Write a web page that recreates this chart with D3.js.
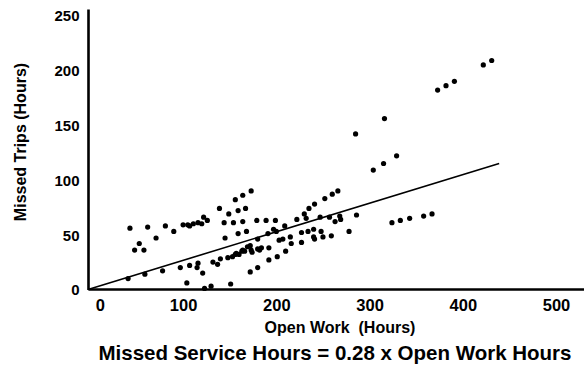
<!DOCTYPE html>
<html>
<head>
<meta charset="utf-8">
<script src="https://cdn.jsdelivr.net/npm/d3@7"></script>
<style>
  html, body { margin: 0; padding: 0; background: #fff; }
  #chart { width: 584px; height: 375px; }
  text { font-family: "Liberation Sans", Arial, sans-serif; font-weight: bold; fill: #000; }
</style>
</head>
<body>
<div id="chart"></div>
<script>
// open work hours (x) and missed trip hours (y)
const openWork = [
  43, 48, 53, 58, 62, 71, 81, 90, 100, 105, 107, 111, 116, 120, 122, 126,
  41, 59, 78, 97, 107, 116, 115, 121, 104, 123, 130, 151,
  139, 144, 149, 154, 156, 159, 164, 164, 167, 173, 179, 189, 199, 145, 159, 168,
  132, 137, 140, 148, 153, 156, 157, 160, 163, 164, 166, 169, 172, 173, 174, 180, 182, 184,
  180, 172, 192, 201, 210, 192,
  180, 191, 197, 200, 203, 207, 215, 216, 227, 227, 234, 240, 241, 240, 248, 250, 259,
  209, 222, 230, 232, 235, 241, 247, 252, 257, 260, 263, 268, 269, 266, 278,
  422, 431, 373, 382, 391, 316, 285, 304, 315, 329, 286, 324, 333, 343, 358, 367
];
const missedTrips = [
  56, 36, 42, 36, 57, 47, 58, 53, 59, 59, 58, 60, 61, 60, 66, 63,
  10, 14, 17, 20, 22, 24, 20, 15, 6, 1, 3, 5,
  74, 61, 69, 61, 82, 72, 86, 62, 74, 90, 63, 63, 63, 47, 51, 53,
  25, 23, 28, 29, 30, 32, 33, 32, 35, 36, 35, 39, 40, 36, 34, 37, 36, 38,
  20, 16, 27, 30, 35, 38,
  46, 51, 55, 53, 45, 46, 48, 42, 52, 43, 53, 48, 46, 55, 53, 48, 49,
  58, 64, 69, 65, 74, 78, 66, 83, 66, 87, 62, 67, 64, 90, 53,
  205, 209, 182, 186, 190, 156, 142, 109, 115, 122, 68, 61, 63, 65, 67, 69
];

// fitted line end points
const trendX = [-2, 439];
const trendY = [0, 115];

const xTicks = [0, 100, 200, 300, 400, 500];
const yTicks = [0, 50, 100, 150, 200, 250];

const xTitle = "Open Work  (Hours)";
const yTitle = "Missed Trips (Hours)";
const chartTitle = "Missed Service Hours = 0.28 x Open Work Hours";

const width = 584, height = 375;

const svg = d3.select("#chart")
  .append("svg")
  .attr("width", width)
  .attr("height", height);

const x = d3.scaleLinear().domain([-2, 530]).range([88, 584]);
const y = d3.scaleLinear().domain([0, 256]).range([289.5, 9]);

// points
svg.append("g")
  .selectAll("circle")
  .data(openWork.map((d, i) => ({ x: d, y: missedTrips[i] })))
  .enter()
  .append("circle")
  .attr("cx", d => x(d.x))
  .attr("cy", d => y(d.y))
  .attr("r", 2.6)
  .style("fill", "#000");

// trend line
svg.append("line")
  .attr("x1", x(trendX[0]))
  .attr("y1", y(trendY[0]))
  .attr("x2", x(trendX[1]))
  .attr("y2", y(trendY[1]))
  .style("stroke", "#000")
  .style("stroke-width", 1.6);

// y axis
const yAxis = svg.append("g")
  .attr("transform", "translate(88,0)")
  .call(d3.axisLeft(y).tickValues(yTicks).tickSize(0).tickSizeOuter(0).tickPadding(8.5));
yAxis.select(".domain").style("stroke", "#000").style("stroke-width", 2.6);
yAxis.selectAll("text")
  .style("font-family", "'Liberation Sans', Arial, sans-serif")
  .style("font-weight", "bold")
  .style("font-size", "15px")
  .attr("dy", "0.36em");

// x axis
const xAxis = svg.append("g")
  .attr("transform", "translate(0,289)")
  .call(d3.axisBottom(x).tickValues(xTicks).tickSize(0).tickSizeOuter(0).tickPadding(10));
xAxis.select(".domain").style("stroke", "#000").style("stroke-width", 2.6);
xAxis.selectAll("text")
  .style("font-family", "'Liberation Sans', Arial, sans-serif")
  .style("font-weight", "bold")
  .style("font-size", "16.5px")
  .attr("dy", "0.71em");
// the zero label sits a little right of the corner
xAxis.selectAll(".tick").filter(d => d === 0).select("text").attr("dx", 10);

// titles
svg.append("text")
  .attr("text-anchor", "middle")
  .attr("x", 340)
  .attr("y", 333)
  .style("font-size", "16px")
  .style("white-space", "pre")
  .attr("xml:space", "preserve")
  .text(xTitle);

svg.append("text")
  .attr("text-anchor", "middle")
  .attr("transform", "translate(26,142) rotate(-90)")
  .style("font-size", "16px")
  .text(yTitle);

svg.append("text")
  .attr("text-anchor", "middle")
  .attr("x", 335)
  .attr("y", 360)
  .style("font-size", "20.5px")
  .text(chartTitle);
</script>
</body>
</html>
